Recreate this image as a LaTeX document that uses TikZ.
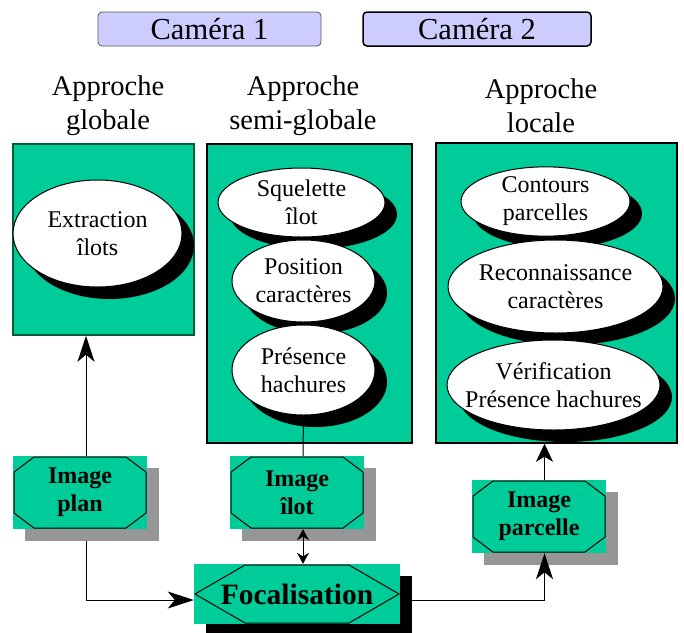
\documentclass[tikz,border=0pt]{standalone}
\usepackage{fontspec}
\setmainfont{Liberation Serif}
\usetikzlibrary{arrows.meta, shapes.geometric, shadows}
\definecolor{vertbleu}{RGB}{0,204,153}
\definecolor{vertfonce}{RGB}{0,90,60}
\definecolor{lavande}{RGB}{204,204,255}
\definecolor{grisombre}{RGB}{150,150,150}

\begin{document}
\begin{tikzpicture}[x=1pt, y=-1pt]
    \tikzstyle{camera} = [rectangle, rounded corners=4pt, fill=lavande, draw=black, minimum height=34pt, inner sep=0pt, font=\fontsize{30.5}{34}\selectfont]
    \tikzstyle{titre} = [align=center, font=\fontsize{28.5}{34}\selectfont]
    \tikzstyle{panneau} = [rectangle, fill=vertbleu, draw=black, line width=1.5pt, inner sep=0pt]
    \tikzstyle{tache} = [ellipse, draw, fill=white, line width=1pt, inner sep=0pt, align=center, font=\fontsize{24}{28}\selectfont, drop shadow={shadow xshift=12pt, shadow yshift=-12pt, fill=black, opacity=1}]
    \tikzstyle{image} = [rectangle, fill=vertbleu, minimum width=134pt, minimum height=73pt, inner sep=0pt, align=center, font=\fontsize{24}{28}\selectfont\bfseries, drop shadow={shadow xshift=12pt, shadow yshift=-12pt, fill=grisombre, opacity=1}, path picture={\draw[line width=1pt] ([xshift=21pt,yshift=-1pt]path picture bounding box.north west) -- ([xshift=-21pt,yshift=-1pt]path picture bounding box.north east) -- ([xshift=-1pt,yshift=-16pt]path picture bounding box.north east) -- ([xshift=-1pt,yshift=16pt]path picture bounding box.south east) -- ([xshift=-21pt,yshift=1pt]path picture bounding box.south east) -- ([xshift=21pt,yshift=1pt]path picture bounding box.south west) -- ([xshift=1pt,yshift=16pt]path picture bounding box.south west) -- ([xshift=1pt,yshift=-16pt]path picture bounding box.north west) -- cycle;}]
    \tikzstyle{focal} = [rectangle, fill=vertbleu, minimum width=206pt, minimum height=60pt, inner sep=0pt, font=\fontsize{29.5}{34}\selectfont\bfseries, drop shadow={shadow xshift=12pt, shadow yshift=-12pt, fill=black, opacity=1}, path picture={\draw[line width=1pt] ([xshift=1pt]path picture bounding box.west) -- ([xshift=51pt,yshift=-1pt]path picture bounding box.north west) -- ([xshift=-51pt,yshift=-1pt]path picture bounding box.north east) -- ([xshift=-1pt]path picture bounding box.east) -- ([xshift=-51pt,yshift=1pt]path picture bounding box.south east) -- ([xshift=51pt,yshift=1pt]path picture bounding box.south west) -- cycle;}]
    \tikzstyle{grandefleche} = [-{Stealth[length=26pt, width=17pt, inset=7pt]}, line width=1pt]
    \tikzstyle{petitefleche} = [-{Stealth[length=18pt, width=17pt, inset=5pt]}, line width=1pt]
    \tikzstyle{doublefleche} = [{Stealth[length=11pt, width=12pt]}-{Stealth[length=11pt, width=12pt]}, line width=1pt]

    \useasboundingbox (0,0) rectangle (684,632);

    % Cameras
    \node [camera, minimum width=223pt, draw=gray!70!black, line width=0.8pt] (camera1) at (209.5,29) {Caméra 1};
    \node [camera, minimum width=228pt, line width=1.5pt] (camera2) at (477,29) {Caméra 2};

    % Approaches
    \node [titre] (titre_globale) at (108,106) {Approche\\globale};
    \node [titre] (titre_semi) at (303,106) {Approche\\semi-globale};
    \node [titre] (titre_locale) at (541,106) {Approche\\locale};

    % Panels
    \node [panneau, draw=vertfonce, minimum width=181pt, minimum height=191pt] (globale) at (103.5,239.5) {};
    \node [panneau, minimum width=205pt, minimum height=299pt] (semi_globale) at (309.5,293.5) {};
    \node [panneau, minimum width=241pt, minimum height=300pt] (locale) at (556.5,293) {};

    % Processing steps
    \node [tache, minimum width=169pt, minimum height=107pt] (extraction) at (97.5,233.5) {Extraction\\îlots};

    \node [tache, minimum width=167pt, minimum height=69pt] (squelette) at (301.5,202.5) {Squelette\\îlot};
    \node [tache, minimum width=143pt, minimum height=82pt] (position) at (303.5,281) {Position\\caractères};
    \node [tache, minimum width=143pt, minimum height=90pt] (presence) at (303.5,370) {Présence\\hachures};

    \node [tache, minimum width=169pt, minimum height=67pt] (contours) at (545.5,201.5) {Contours\\parcelles};
    \node [tache, minimum width=215pt, minimum height=93pt, inner xsep=-4pt] (reconnaissance) at (555.5,286.5) {Reconnaissance\\caractères};
    \node [tache, minimum width=213pt, minimum height=90pt, inner xsep=-14pt, inner ysep=-4pt] (verification) at (553.5,385) {Vérification\\Présence hachures};

    % Images
    \node [image] (image_plan) at (80,492.5) {Image\\plan};
    \node [image] (image_ilot) at (297,492.5) {Image\\îlot};
    \node [image] (image_parcelle) at (539,516.5) {Image\\parcelle};
    \node [focal] (focalisation) at (297,594) {Focalisation};

    % Connections
    \draw [grandefleche] ([xshift=6pt]image_plan.north) -- ([xshift=6pt]image_plan.north |- globale.south);
    \draw [grandefleche] ([xshift=6pt, yshift=-12pt]image_plan.south) |- ([yshift=-6pt]focalisation.west);
    \draw [line width=1pt] (presence.south) -- ([xshift=6pt]image_ilot.north);
    \draw [doublefleche] ([xshift=6pt]image_ilot.south) -- ([xshift=6pt]focalisation.north);
    \draw [grandefleche] ([yshift=-6pt]focalisation.east) -| ([xshift=5.5pt]image_parcelle.south);
    \draw [petitefleche] ([xshift=5.5pt]image_parcelle.north) -- ([xshift=5.5pt]image_parcelle.north |- locale.south);
\end{tikzpicture}
\end{document}
